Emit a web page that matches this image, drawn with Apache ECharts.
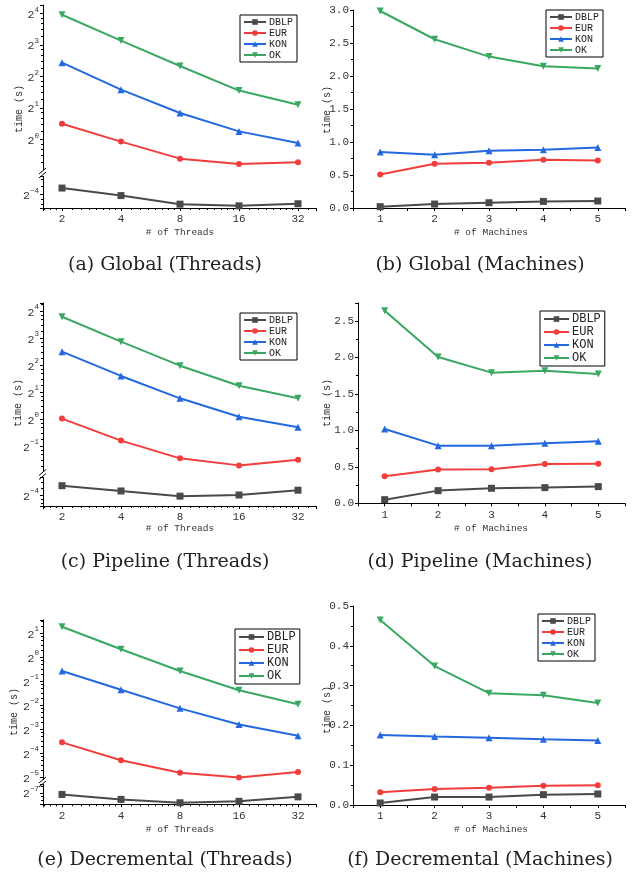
<!DOCTYPE html>
<html><head><meta charset="utf-8">
<script src="https://cdn.jsdelivr.net/npm/echarts@6/dist/echarts.min.js"></script>
<style>html,body{margin:0;padding:0;background:#fff}#c{width:636px;height:875px}</style>
</head><body><div id="c"></div><script>
// ---------------- DATA ----------------
const threads = [2, 4, 8, 16, 32];
const machines = [1, 2, 3, 4, 5];
const seriesNames = ['DBLP', 'EUR', 'KON', 'OK'];

// (a) Global (Threads)
const globalThreadsDBLP = [0.072, 0.061, 0.0505, 0.0487, 0.051];
const globalThreadsEUR  = [1.41, 0.95, 0.653, 0.581, 0.603];
const globalThreadsKON  = [5.40, 2.98, 1.785, 1.19, 0.923];
const globalThreadsOK   = [15.5, 8.77, 5.02, 2.92, 2.14];
// (b) Global (Machines)
const globalMachinesDBLP = [0.02, 0.06, 0.08, 0.10, 0.106];
const globalMachinesEUR  = [0.509, 0.671, 0.686, 0.731, 0.721];
const globalMachinesKON  = [0.847, 0.807, 0.867, 0.882, 0.918];
const globalMachinesOK   = [2.985, 2.557, 2.294, 2.148, 2.113];
// (c) Pipeline (Threads)
const pipelineThreadsDBLP = [0.0794, 0.0693, 0.0607, 0.0625, 0.0707];
const pipelineThreadsEUR  = [1.01, 0.574, 0.364, 0.304, 0.352];
const pipelineThreadsKON  = [5.63, 3.02, 1.70, 1.06, 0.807];
const pipelineThreadsOK   = [13.8, 7.28, 3.93, 2.35, 1.70];
// (d) Pipeline (Machines)
const pipelineMachinesDBLP = [0.050, 0.174, 0.206, 0.215, 0.229];
const pipelineMachinesEUR  = [0.370, 0.462, 0.466, 0.539, 0.544];
const pipelineMachinesKON  = [1.019, 0.791, 0.791, 0.823, 0.850];
const pipelineMachinesOK   = [2.642, 2.006, 1.792, 1.819, 1.773];
// (e) Decremental (Threads)
const decrementalThreadsDBLP = [0.00745, 0.00645, 0.00585, 0.0061, 0.00694];
const decrementalThreadsEUR  = [0.0850, 0.0507, 0.0354, 0.0309, 0.036];
const decrementalThreadsKON  = [0.667, 0.389, 0.227, 0.142, 0.103];
const decrementalThreadsOK   = [2.40, 1.25, 0.667, 0.382, 0.255];
// (f) Decremental (Machines)
const decrementalMachinesDBLP = [0.005, 0.020, 0.020, 0.026, 0.0276];
const decrementalMachinesEUR  = [0.0318, 0.040, 0.0435, 0.0486, 0.0494];
const decrementalMachinesKON  = [0.176, 0.172, 0.169, 0.165, 0.162];
const decrementalMachinesOK   = [0.465, 0.349, 0.281, 0.276, 0.256];

const captions = ['(a) Global (Threads)', '(b) Global (Machines)', '(c) Pipeline (Threads)',
                  '(d) Pipeline (Machines)', '(e) Decremental (Threads)', '(f) Decremental (Machines)'];
const yTitle = 'time (s)';
const xTitleThreads = '# of Threads';
const xTitleMachines = '# of Machines';

// ---------------- STYLE ----------------
const COL = {DBLP: '#4a4a4a', EUR: '#f23d3d', KON: '#2468e0', OK: '#3aa863'};
const SYM = {DBLP: 'rect', EUR: 'circle', KON: 'triangle', OK: 'triangle'};
const MONO = 'Liberation Mono';
const SERIF = 'DejaVu Serif';
const TXT = '#333';

const grids = [], xAxes = [], yAxes = [], series = [], legends = [], graphics = [];

function supLabel(v) {
  const e = Math.log2(v), r = Math.round(e);
  if (Math.abs(e - r) > 1e-6) return '';
  return '{b|2}{s|' + (r < 0 ? '\u2212' + (-r) : String(r)) + '}';
}
const supRich = {
  b: {fontFamily: MONO, fontSize: 11.5, color: TXT, lineHeight: 15, verticalAlign: 'bottom'},
  s: {fontFamily: MONO, fontSize: 7.5, color: TXT, lineHeight: 15, verticalAlign: 'top'}
};
function axisBase() {
  return {
    axisLine: {show: true, onZero: false, lineStyle: {color: '#000', width: 1}},
    axisTick: {show: true, length: 3, lineStyle: {color: '#000', width: 1}},
    minorTick: {show: true, length: 2, splitNumber: 5, lineStyle: {color: '#000', width: 1}},
    splitLine: {show: false}, minorSplitLine: {show: false}
  };
}
function mkSeries(name, xs, ys, xi, yi) {
  return {
    type: 'line', name: name, xAxisIndex: xi, yAxisIndex: yi,
    data: xs.map((x, i) => [x, ys[i]]),
    symbol: SYM[name], symbolSize: name === 'EUR' ? 6 : 7, symbolRotate: name === 'OK' ? 180 : 0,
    lineStyle: {width: 2, color: COL[name]}, itemStyle: {color: COL[name]},
    animation: false
  };
}
function addLegend(l) {
  legends.push({
    show: true, orient: 'vertical', left: l.left, top: l.top, data: seriesNames,
    borderColor: '#000', borderWidth: 1, borderRadius: 0, padding: l.pad,
    itemGap: l.gap, itemWidth: l.iw, itemHeight: 7, selectedMode: false,
    textStyle: {fontFamily: MONO, fontSize: l.fs, color: '#222', padding: [0, 0, 0, -2]}
  });
}
function addTexts(p) {
  graphics.push({type: 'text', x: p.yt[0], y: p.yt[1], rotation: Math.PI / 2,
    style: {text: yTitle, font: '10px ' + MONO, fill: TXT, textAlign: 'center', textVerticalAlign: 'middle'}});
  graphics.push({type: 'text', x: p.xt[0], y: p.xt[1],
    style: {text: p.xtitle, font: '9.5px ' + MONO, fill: TXT, textAlign: 'center', textVerticalAlign: 'middle'}});
  graphics.push({type: 'text', x: p.cap[0], y: p.cap[1],
    style: {text: p.caption, font: '19px "' + SERIF + '"', fill: '#222', textAlign: 'center', textVerticalAlign: 'middle'}});
}

const X_EXP = [0.678, 5.305];
function threadsPanel(p) {
  const up = grids.length, low = up + 1;
  grids.push({left: p.left, top: p.upTop, width: p.width, height: p.upBottom - p.upTop});
  grids.push({left: p.left, top: p.lowTop, width: p.width, height: p.lowBottom - p.lowTop});
  const xmin = Math.pow(2, X_EXP[0]), xmax = Math.pow(2, X_EXP[1]);
  xAxes.push({type: 'log', logBase: 2, gridIndex: up, min: xmin, max: xmax, show: false});
  xAxes.push(Object.assign(axisBase(), {
    type: 'log', logBase: 2, gridIndex: low, min: xmin, max: xmax,
    minorTick: {show: true, length: 2, splitNumber: 8, lineStyle: {color: '#000'}},
    axisLabel: {fontFamily: MONO, fontSize: 11, color: TXT, margin: 6,
      formatter: v => { const e = Math.log2(v), r = Math.round(e); return Math.abs(e - r) < 1e-6 ? String(Math.round(v)) : ''; }}
  }));
  [[up, p.upExp], [low, p.lowExp]].forEach(([gi, ex]) => {
    yAxes.push(Object.assign(axisBase(), {
      type: 'log', logBase: 2, gridIndex: gi, min: Math.pow(2, ex[0]), max: Math.pow(2, ex[1]),
      axisLabel: {formatter: supLabel, rich: supRich, margin: 4, showMinLabel: false, showMaxLabel: false}
    }));
  });
  series.push(mkSeries('DBLP', threads, p.d.DBLP, low, low));
  series.push(mkSeries('EUR', threads, p.d.EUR, up, up));
  series.push(mkSeries('KON', threads, p.d.KON, up, up));
  series.push(mkSeries('OK', threads, p.d.OK, up, up));
  // axis break mark
  const by = (p.upBottom + p.lowTop) / 2, bx = p.left;
  graphics.push({type: 'rect', shape: {x: bx - 4, y: p.upBottom, width: 8, height: p.lowTop - p.upBottom}, style: {fill: '#fff'}, z: 100});
  graphics.push({type: 'line', shape: {x1: bx - 4, y1: by + 1, x2: bx + 3, y2: by - 5}, style: {stroke: '#000', lineWidth: 1}, z: 101});
  graphics.push({type: 'line', shape: {x1: bx - 4, y1: by + 5, x2: bx + 3, y2: by - 1}, style: {stroke: '#000', lineWidth: 1}, z: 101});
  addLegend(p.legend);
  addTexts(p);
}
function machinesPanel(p) {
  const gi = grids.length;
  grids.push({left: p.left, top: p.top, width: p.width, height: p.bottom - p.top});
  xAxes.push(Object.assign(axisBase(), {
    type: 'value', gridIndex: gi, min: 0.5, max: 5.5, interval: 0.5,
    minorTick: {show: false},
    axisLabel: {fontFamily: MONO, fontSize: 11, color: TXT, margin: 6,
      formatter: v => Math.abs(v - Math.round(v)) < 1e-9 ? String(Math.round(v)) : ''}
  }));
  yAxes.push(Object.assign(axisBase(), {
    type: 'value', gridIndex: gi, min: 0, max: p.ymax, interval: p.yint,
    minorTick: {show: true, length: 2, splitNumber: 2, lineStyle: {color: '#000'}},
    axisLabel: {fontFamily: MONO, fontSize: 11, color: TXT, margin: 4,
      formatter: v => { const k = v / p.yint; return Math.abs(k - Math.round(k)) < 1e-6 ? v.toFixed(1) : ''; }}
  }));
  seriesNames.forEach(n => series.push(mkSeries(n, machines, p.d[n], gi, gi)));
  addLegend(p.legend);
  addTexts(p);
}

threadsPanel({left: 43, width: 273, upTop: 5, upBottom: 170, lowTop: 176, lowBottom: 208,
  upExp: [-0.975, 4.263], lowExp: [-4.429, -3.413],
  d: {DBLP: globalThreadsDBLP, EUR: globalThreadsEUR, KON: globalThreadsKON, OK: globalThreadsOK},
  legend: {left: 240, top: 15, pad: [2, 4, 2, 3], gap: 1, iw: 22, fs: 10},
  yt: [19, 109], xt: [180, 232], xtitle: xTitleThreads, cap: [165, 265], caption: captions[0]});
machinesPanel({left: 353, width: 272, top: 10, bottom: 208, ymax: 3.0, yint: 0.5,
  d: {DBLP: globalMachinesDBLP, EUR: globalMachinesEUR, KON: globalMachinesKON, OK: globalMachinesOK},
  legend: {left: 546, top: 10, pad: [2, 4, 2, 3], gap: 1, iw: 22, fs: 10},
  yt: [327, 110], xt: [491, 232], xtitle: xTitleMachines, cap: [480, 265], caption: captions[1]});
threadsPanel({left: 43, width: 273, upTop: 303, upBottom: 472, lowTop: 477, lowBottom: 506,
  upExp: [-1.963, 4.296], lowExp: [-4.407, -3.333],
  d: {DBLP: pipelineThreadsDBLP, EUR: pipelineThreadsEUR, KON: pipelineThreadsKON, OK: pipelineThreadsOK},
  legend: {left: 240, top: 313, pad: [2, 4, 2, 3], gap: 1, iw: 22, fs: 10},
  yt: [18, 403], xt: [180, 528], xtitle: xTitleThreads, cap: [165, 562], caption: captions[2]});
machinesPanel({left: 358, width: 267, top: 302.8, bottom: 503.3, ymax: 2.75, yint: 0.5,
  d: {DBLP: pipelineMachinesDBLP, EUR: pipelineMachinesEUR, KON: pipelineMachinesKON, OK: pipelineMachinesOK},
  legend: {left: 540, top: 311, pad: [2, 4, 2, 3], gap: 1, iw: 25, fs: 12},
  yt: [327, 403], xt: [491, 528], xtitle: xTitleMachines, cap: [480, 562], caption: captions[3]});
threadsPanel({left: 43, width: 273, upTop: 620, upBottom: 780, lowTop: 784, lowBottom: 804.3,
  upExp: [-5.125, 1.542], lowExp: [-7.483, -6.63],
  d: {DBLP: decrementalThreadsDBLP, EUR: decrementalThreadsEUR, KON: decrementalThreadsKON, OK: decrementalThreadsOK},
  legend: {left: 235, top: 629, pad: [2, 4, 2, 3], gap: 1, iw: 25, fs: 12},
  yt: [14, 712], xt: [180, 829], xtitle: xTitleThreads, cap: [165, 860], caption: captions[4]});
machinesPanel({left: 353, width: 272, top: 606, bottom: 805, ymax: 0.5, yint: 0.1,
  d: {DBLP: decrementalMachinesDBLP, EUR: decrementalMachinesEUR, KON: decrementalMachinesKON, OK: decrementalMachinesOK},
  legend: {left: 538, top: 614, pad: [2, 4, 2, 3], gap: 1, iw: 22, fs: 10},
  yt: [327, 710], xt: [491, 829], xtitle: xTitleMachines, cap: [480, 860], caption: captions[5]});

const chart = echarts.init(document.getElementById('c'), null, {renderer: 'canvas'});
chart.setOption({
  backgroundColor: '#fff', animation: false,
  grid: grids, xAxis: xAxes, yAxis: yAxes, series: series, legend: legends,
  graphic: {elements: graphics}
});
</script></body></html>
